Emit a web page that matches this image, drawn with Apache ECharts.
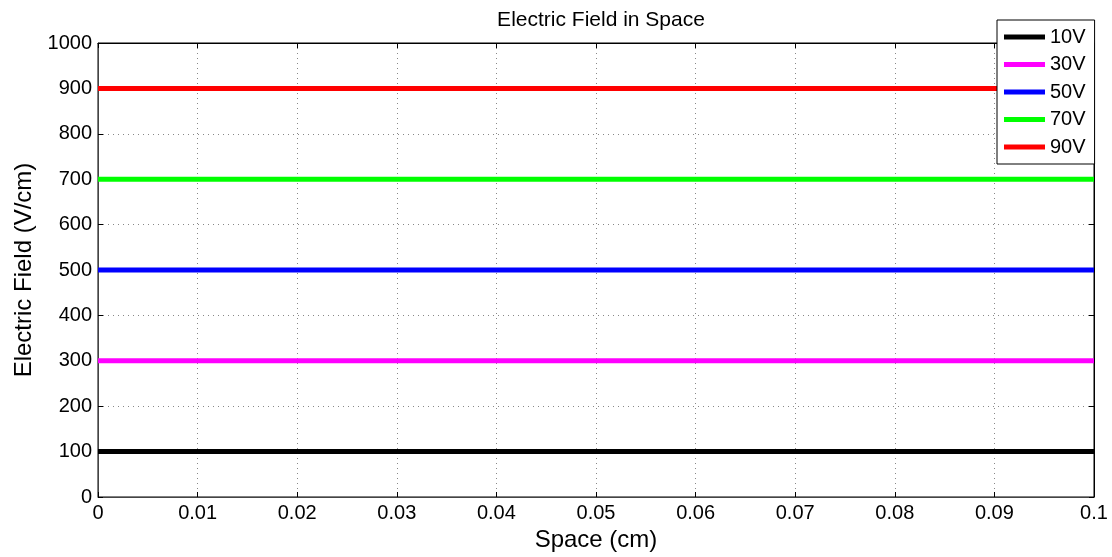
<!DOCTYPE html>
<html>
<head>
<meta charset="utf-8">
<script src="https://cdn.jsdelivr.net/npm/echarts@6/dist/echarts.min.js"></script>
<style>html,body{margin:0;padding:0;background:#fff}#c{width:1112px;height:557px}</style>
</head>
<body>
<div id="c"></div>
<script>
var seriesNames = ['10V', '30V', '50V', '70V', '90V'];
var seriesColors = ['#000000', '#ff00ff', '#0000ff', '#00ff00', '#ff0000'];
var xValues = [0, 0.1];
var v10 = [100, 100];
var v30 = [300, 300];
var v50 = [500, 500];
var v70 = [700, 700];
var v90 = [900, 900];
var allValues = [v10, v30, v50, v70, v90];

var FONT = 'Arial, "Liberation Sans", sans-serif';
var chart = echarts.init(document.getElementById('c'));
var series = seriesNames.map(function (n, i) {
  return {
    name: n, type: 'line', xAxisIndex: 0, yAxisIndex: 0,
    data: xValues.map(function (x, j) { return [x, allValues[i][j]]; }),
    showSymbol: false, symbol: 'none', animation: false,
    lineStyle: { color: seriesColors[i], width: 5 },
    itemStyle: { color: seriesColors[i] }
  };
});
var grid = { left: 98, top: 43, width: 996, height: 454, show: true, borderColor: '#000', borderWidth: 1, backgroundColor: '#fff' };
var splitDot = { show: true, lineStyle: { color: '#888', width: 1, type: [1, 4] } };
chart.setOption({
  animation: false,
  title: { text: 'Electric Field in Space', left: 596, textAlign: 'center', top: 5,
    textStyle: { fontFamily: FONT, fontSize: 21, fontWeight: 'normal', color: '#000' } },
  grid: grid,
  legend: {
    orient: 'vertical', left: 997, top: 20,
    data: seriesNames.map(function (n) { return { name: n, icon: 'rect' }; }),
    itemWidth: 41, itemHeight: 5, itemGap: 7.5,
    padding: [7, 9, 7, 7],
    backgroundColor: '#fff', borderColor: '#000', borderWidth: 1,
    textStyle: { fontFamily: FONT, fontSize: 20, color: '#000', lineHeight: 20 },
    selectedMode: false
  },
  xAxis: [{
    type: 'value', min: 0, max: 0.1, interval: 0.01,
    name: 'Space (cm)', nameLocation: 'middle', nameGap: 31,
    nameTextStyle: { fontFamily: FONT, fontSize: 24, color: '#000' },
    axisLine: { show: true, onZero: false, lineStyle: { color: '#444', width: 1 } },
    axisTick: { show: true, inside: true, length: 5, lineStyle: { color: '#000' } },
    axisLabel: { fontFamily: FONT, fontSize: 20, color: '#000', margin: 6,
      formatter: function (v) { return String(Math.round(v * 100) / 100); } },
    splitLine: splitDot
  }, {
    type: 'value', min: 0, max: 0.1, interval: 0.01, position: 'top',
    axisLine: { show: true, onZero: false, lineStyle: { color: '#000' } },
    axisTick: { show: true, inside: true, length: 5, lineStyle: { color: '#000' } },
    axisLabel: { show: false }, splitLine: { show: false }
  }],
  yAxis: [{
    type: 'value', min: 0, max: 1000, interval: 100,
    name: 'Electric Field (V/cm)', nameLocation: 'middle', nameGap: 59,
    nameTextStyle: { fontFamily: FONT, fontSize: 24, color: '#000' },
    axisLine: { show: true, onZero: false, lineStyle: { color: '#444', width: 1 } },
    axisTick: { show: true, inside: true, length: 5, lineStyle: { color: '#000' } },
    axisLabel: { fontFamily: FONT, fontSize: 20, color: '#000', margin: 6,
      formatter: function (v) { return String(Math.round(v)); } },
    splitLine: splitDot
  }, {
    type: 'value', min: 0, max: 1000, interval: 100, position: 'right',
    axisLine: { show: true, onZero: false, lineStyle: { color: '#000' } },
    axisTick: { show: true, inside: true, length: 5, lineStyle: { color: '#000' } },
    axisLabel: { show: false }, splitLine: { show: false }
  }],
  series: series
});
</script>
</body>
</html>
